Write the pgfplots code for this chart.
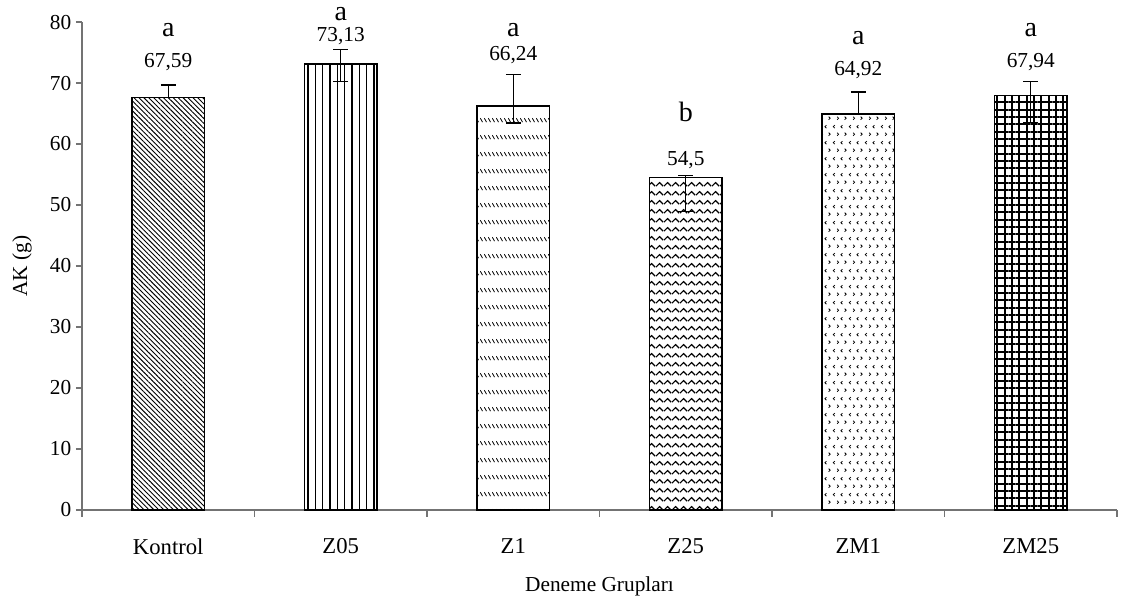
\documentclass[border=0pt]{standalone}
\usepackage{pgfplots}
\pgfplotsset{compat=1.18}
\usepackage{fontspec}
\setmainfont{Liberation Serif}
\usetikzlibrary{patterns,patterns.meta}

\tikzdeclarepattern{
  name=zigzag, type=uncolored,
  bottom left={(0pt,0pt)}, top right={(6pt,6.75pt)}, tile size={(6pt,6.75pt)},
  code={\draw[line width=0.9pt] (0pt,1.5pt)--(3pt,4.5pt)--(6pt,1.5pt);}
}
\tikzdeclarepattern{
  name=dashband, type=uncolored,
  bottom left={(0pt,0pt)}, top right={(3pt,13pt)}, tile size={(3pt,13pt)},
  code={\draw[line width=0.7pt] (0.3pt,4.5pt)--(2.3pt,1.5pt);}
}
\tikzdeclarepattern{
  name=chevrons, type=uncolored,
  bottom left={(0pt,0pt)}, top right={(12pt,12pt)}, tile size={(12pt,12pt)},
  code={\draw[line width=0.6pt] (2.2pt,10.2pt)--(1pt,9pt)--(2.2pt,7.8pt);
        \draw[line width=0.6pt] (4pt,4.2pt)--(5.2pt,3pt)--(4pt,1.8pt);
        \draw[line width=0.6pt] (8.2pt,10.2pt)--(7pt,9pt)--(8.2pt,7.8pt);
        \draw[line width=0.6pt] (10pt,4.2pt)--(11.2pt,3pt)--(10pt,1.8pt);}
}

\begin{document}
\begin{tikzpicture}
\useasboundingbox (-61.5pt,-68.25pt) rectangle (780pt,382.5pt);
\begin{axis}[
  at={(0pt,0pt)}, anchor=south west,
  scale only axis, width=776.25pt, height=366pt,
  xmin=-0.5, xmax=5.5, ymin=0, ymax=80,
  ytick={0,10,...,80},
  xtick={0,...,5}, xticklabels={Kontrol,Z05,Z1,Z25,ZM1,ZM25},
  minor xtick={-0.5,0.5,...,5.5},
  axis lines=left,
  axis line style={-, draw=gray!90!black, line width=0.9pt},
  tick align=outside,
  major tick length=4.5pt, minor tick length=5pt,
  major x tick style={draw=none},
  minor x tick style={draw=gray!90!black, line width=0.8pt},
  ytick style={draw=gray!90!black, line width=0.8pt},
  yticklabel style={font=\fontsize{16}{19}\selectfont},
  xticklabel style={font=\fontsize{17}{20}\selectfont, yshift=-13.5pt},
  /pgf/number format/assume math mode=true,
  xlabel={Deneme Grupları},
  ylabel={AK (g)},
  label style={font=\fontsize{16}{19}\selectfont},
  xlabel style={at={(axis description cs:0.5,-0.157)}, anchor=center},
  ylabel style={at={(axis description cs:-0.058,0.5)}, anchor=center},
  clip=false,
  error bars/error bar style={black, line width=1pt},
  error bars/error mark options={rotate=90, mark size=5.5pt, line width=1pt, black},
]
\addplot[ybar, bar width=0.42, bar shift=0pt, draw=black, line width=1pt, fill=white,
  postaction={pattern={Lines[angle=-45, distance=2.6pt, line width=0.7pt]}},
  error bars/.cd, y dir=both, y explicit]
  coordinates {(0,67.59) += (0,2.1) -= (0,0)};
\addplot[ybar, bar width=0.42, bar shift=0pt, draw=black, line width=1pt, fill=white,
  postaction={pattern={Lines[angle=90, distance=5.5pt, line width=1.1pt]}},
  error bars/.cd, y dir=both, y explicit]
  coordinates {(1,73.13) += (0,2.4) -= (0,2.9)};
\addplot[ybar, bar width=0.42, bar shift=0pt, draw=black, line width=1pt, fill=white,
  postaction={pattern=dashband},
  error bars/.cd, y dir=both, y explicit]
  coordinates {(2,66.24) += (0,5.2) -= (0,2.8)};
\addplot[ybar, bar width=0.42, bar shift=0pt, draw=black, line width=1pt, fill=white,
  postaction={pattern=zigzag},
  error bars/.cd, y dir=both, y explicit]
  coordinates {(3,54.5) += (0,0.3) -= (0,5.6)};
\addplot[ybar, bar width=0.42, bar shift=0pt, draw=black, line width=1pt, fill=white,
  postaction={pattern=chevrons},
  error bars/.cd, y dir=both, y explicit]
  coordinates {(4,64.92) += (0,3.6) -= (0,0)};
\addplot[ybar, bar width=0.42, bar shift=0pt, draw=black, line width=1pt, fill=white,
  postaction={pattern={Hatch[angle=0, distance=5.5pt, line width=1.5pt]}},
  error bars/.cd, y dir=both, y explicit]
  coordinates {(5,67.94) += (0,2.3) -= (0,4.4)};
% value labels
\addplot[draw=none, mark=none, nodes near coords, point meta=explicit symbolic,
  nodes near coords style={anchor=center, font=\fontsize{16}{19}\selectfont, black, inner sep=0pt}]
  coordinates {(0,73.4) [67,59] (1,77.7) [73,13] (2,74.6) [66,24] (3,57.4) [54,5] (4,72.1) [64,92] (5,73.4) [67,94]};
% significance letters
\addplot[draw=none, mark=none, nodes near coords, point meta=explicit symbolic,
  nodes near coords style={anchor=center, font=\fontsize{21}{25}\selectfont, black, inner sep=0pt}]
  coordinates {(0,78.7) [a] (1,81.3) [a] (2,78.7) [a] (3,65.2) [b] (4,77.4) [a] (5,78.7) [a]};
\end{axis}
\end{tikzpicture}
\end{document}
